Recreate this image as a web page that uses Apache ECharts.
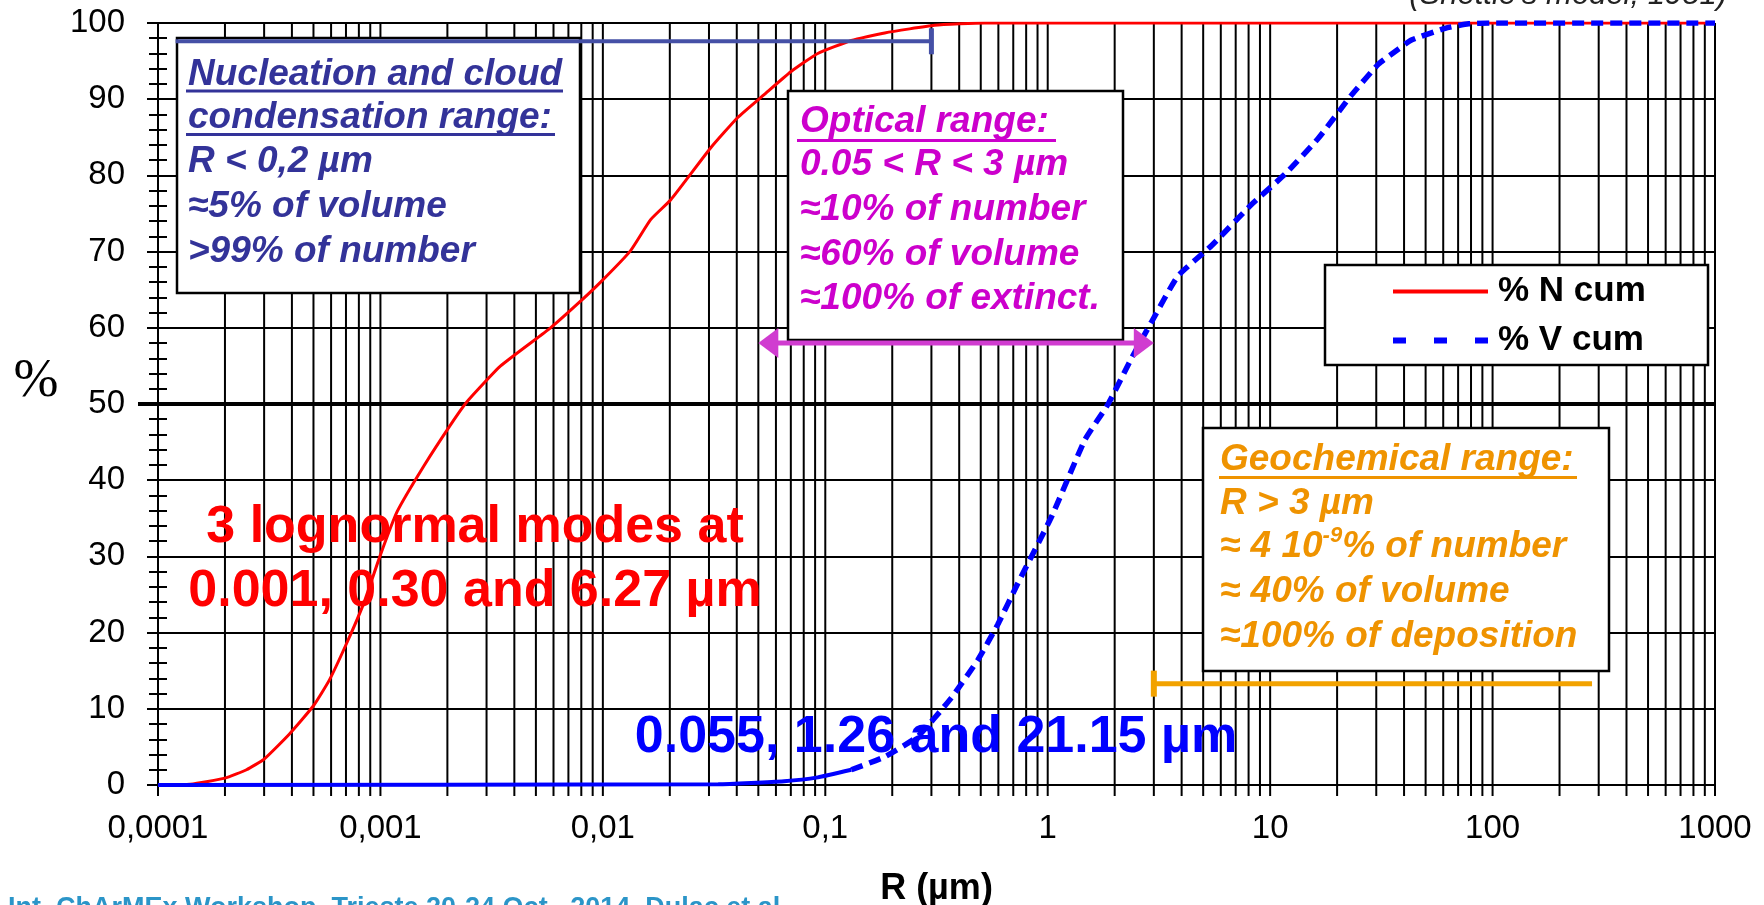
<!DOCTYPE html>
<html>
<head>
<meta charset="utf-8">
<script src="https://cdn.jsdelivr.net/npm/echarts@6/dist/echarts.min.js"></script>
<style>
html, body { margin: 0; padding: 0; background: #fff; }
#chart { width: 1764px; height: 905px; }
</style>
</head>
<body>
<div id="chart"></div>
<script>
// Cumulative aerosol distributions: % of number (N) and % of volume (V) below radius R (µm)
const radiusN = [0.0001, 0.00014, 0.0002, 0.00025, 0.0003, 0.00039, 0.0005, 0.00059, 0.00071, 0.00084,
  0.001, 0.00119, 0.00157, 0.00207, 0.00245, 0.00347, 0.00582, 0.00767, 0.00977, 0.0133,
  0.0164, 0.0202, 0.0305, 0.0404, 0.0531, 0.07, 0.0925, 0.131, 0.185, 0.31, 0.52, 1000];
const percentN = [0, 0.1, 0.9, 2.0, 3.4, 6.7, 10.4, 13.8, 18.8, 23.8,
  30.2, 35.9, 41.9, 47.3, 50.3, 55.0, 60.0, 63.1, 66.0, 70.1,
  74.2, 76.8, 83.6, 87.6, 90.6, 93.6, 96.0, 97.7, 98.7, 99.7, 100, 100];

const radiusV = [0.0001, 0.033, 0.0653, 0.0925, 0.131, 0.185, 0.261, 0.368, 0.485, 0.597,
  0.735, 1.04, 1.47, 1.87, 2.38, 2.92, 3.85, 5.46, 8.26, 11.7,
  16.5, 23.3, 30.7, 37.8, 43.4, 61.2, 78, 99.3, 1000];
const percentV = [0, 0.1, 0.5, 1.0, 2.0, 3.7, 6.4, 11.4, 16.4, 21.1,
  26.5, 35.2, 45.3, 50.0, 56.0, 60.7, 66.8, 70.8, 76.2, 80.2,
  84.9, 90.6, 94.6, 96.6, 97.8, 99.3, 99.9, 100, 100];
// the flat start of the volume curve is drawn solid, the rest dashed
const vSolidUntil = 4;

const xTickLabels = ['0,0001', '0,001', '0,01', '0,1', '1', '10', '100', '1000'];

// range markers: [R from, R to, % level]
const nucleationSpan = [0.00012, 0.3, 97.6];
const opticalSpan = [0.05, 3, 58];
const geochemSpan = [3, 280, 13.3];

const FONT = "'Liberation Sans', Arial, sans-serif";

// vertical log-grid lines at 1..9 x 10^k
const gridX = [];
for (let e = -4; e <= 2; e++) {
  for (let m = 1; m <= 9; m++) gridX.push(m * Math.pow(10, e));
}
gridX.push(1000);

function pairs(xs, ys, from, to) {
  const out = [];
  for (let i = from; i < to; i++) out.push([xs[i], ys[i]]);
  return out;
}

function bracketRender(color, width, tickAt) {
  return function (params, api) {
    const a = api.coord([api.value(0), api.value(2)]);
    const b = api.coord([api.value(1), api.value(2)]);
    const tx = tickAt === 'end' ? b[0] : a[0];
    return {
      type: 'group',
      children: [
        { type: 'line', shape: { x1: a[0], y1: a[1], x2: b[0], y2: b[1] }, style: { stroke: color, lineWidth: width } },
        { type: 'line', shape: { x1: tx, y1: a[1] - 13, x2: tx, y2: a[1] + 13 }, style: { stroke: color, lineWidth: width + 1 } }
      ]
    };
  };
}

function arrowRender(color, width) {
  return function (params, api) {
    const a = api.coord([api.value(0), api.value(2)]);
    const b = api.coord([api.value(1), api.value(2)]);
    const L = 20, H = 15;
    return {
      type: 'group',
      children: [
        { type: 'line', shape: { x1: a[0] + 10, y1: a[1], x2: b[0] - 10, y2: b[1] }, style: { stroke: color, lineWidth: width } },
        { type: 'polygon', shape: { points: [[a[0], a[1]], [a[0] + L, a[1] - H], [a[0] + L, a[1] + H]] }, style: { fill: color } },
        { type: 'polygon', shape: { points: [[b[0], b[1]], [b[0] - L, b[1] - H], [b[0] - L, b[1] + H]] }, style: { fill: color } }
      ]
    };
  };
}

// one line of box text, placed by its baseline
function textLine(str, x, baseline, color, size, extra) {
  const style = Object.assign({
    text: str, fill: color, fontSize: size, fontWeight: 'bold', fontStyle: 'italic', fontFamily: FONT,
    align: 'left', textAlign: 'left', verticalAlign: 'middle', textVerticalAlign: 'middle'
  }, extra || {});
  return { type: 'text', x: x, y: baseline - 0.35 * size, z: 4, style: style };
}
function underline(x1, x2, y, color) {
  return { type: 'line', z: 4, shape: { x1: x1, y1: y, x2: x2, y2: y }, style: { stroke: color, lineWidth: 3 } };
}
function box(x, y, w, h) {
  return { type: 'rect', z: 3, shape: { x: x, y: y, width: w, height: h }, style: { fill: '#fff', stroke: '#000', lineWidth: 2.5 } };
}

const NUC = '#333399', OPT = '#CC00CC', GEO = '#EF9300';

const graphics = [
  box(177, 38, 403, 255),
  box(788, 91, 335, 249),
  box(1203, 428, 406, 243),
  box(1325, 265, 383, 100),

  textLine('Nucleation and cloud', 188, 88, NUC, 37),
  underline(186, 563, 91, NUC),
  textLine('condensation range:', 188, 131, NUC, 37),
  underline(186, 555, 134.5, NUC),
  textLine('R < 0,2 µm', 188, 175, NUC, 37),
  textLine('≈5% of volume', 188, 220, NUC, 37),
  textLine('>99% of number', 188, 265, NUC, 37),

  textLine('Optical range:', 800, 135, OPT, 37),
  underline(797, 1056, 140.5, OPT),
  textLine('0.05 < R < 3 µm', 800, 178, OPT, 37),
  textLine('≈10% of number', 800, 223, OPT, 37),
  textLine('≈60% of volume', 800, 268, OPT, 37),
  textLine('≈100% of extinct.', 800, 312, OPT, 37),

  textLine('Geochemical range:', 1220, 473, GEO, 37),
  underline(1219, 1577, 477.5, GEO),
  textLine('R > 3 µm', 1220, 517, GEO, 37),
  textLine('≈ 4 10{sup|-9}% of number', 1220, 560, GEO, 37, {
    lineHeight: 44,
    rich: { sup: { fontSize: 22, fontWeight: 'bold', fontStyle: 'italic', fontFamily: FONT, fill: GEO, verticalAlign: 'top', lineHeight: 44 } }
  }),
  textLine('≈ 40% of volume', 1220, 605, GEO, 37),
  textLine('≈100% of deposition', 1220, 650, GEO, 37),

  textLine('3 lognormal modes at', 475, 546, '#FF0000', 52, { fontStyle: 'normal', align: 'center', textAlign: 'center' }),
  textLine('0.001, 0.30 and 6.27 µm', 475, 610, '#FF0000', 52, { fontStyle: 'normal', align: 'center', textAlign: 'center' }),
  textLine('0.055, 1.26 and 21.15 µm', 936, 756, '#0000FF', 52, { fontStyle: 'normal', align: 'center', textAlign: 'center' }),

  { type: 'text', x: 36, y: 382, z: 4, style: { text: '%', fill: '#000', fontSize: 54, fontFamily: "'Liberation Serif', 'Times New Roman', serif",
    align: 'center', textAlign: 'center', verticalAlign: 'middle', textVerticalAlign: 'middle' } },
  { type: 'text', x: 1727, y: 10.5, z: 4, style: { text: "(Shettle's model, 1981)", fill: '#222', fontSize: 31, fontStyle: 'italic', fontFamily: FONT,
    align: 'right', textAlign: 'right', verticalAlign: 'bottom', textVerticalAlign: 'bottom' } },
  { type: 'text', x: 8, y: 895, z: 4, style: { text: 'Int. ChArMEx Workshop, Trieste 20-24 Oct., 2014, Dulac et al.', fill: '#2B95C8', fontSize: 27, fontWeight: 'bold', fontFamily: FONT,
    align: 'left', textAlign: 'left', verticalAlign: 'top', textVerticalAlign: 'top' } }
];

const tickStyle = { color: '#000', width: 2 };

const option = {
  animation: false,
  backgroundColor: '#fff',
  grid: { left: 158, right: 49, top: 23, bottom: 120, containLabel: false, outerBoundsMode: 'none' },
  legend: {
    orient: 'vertical', left: 1390, top: 274, padding: 0,
    itemWidth: 95, itemHeight: 34, itemGap: 14,
    itemStyle: { opacity: 0 },
    textStyle: { fontSize: 35, fontWeight: 'bold', color: '#000', fontFamily: FONT, padding: [0, 0, 0, 5] },
    data: [
      { name: '% N cum', lineStyle: { width: 4 } },
      { name: '% V cum', lineStyle: { type: [13, 28], width: 6 } }
    ]
  },
  xAxis: {
    type: 'log', logBase: 10, min: 0.0001, max: 1000, splitNumber: 7,
    name: 'R (µm)', nameLocation: 'middle', nameGap: 86,
    nameTextStyle: { fontSize: 36, fontWeight: 'bold', color: '#000', fontFamily: FONT },
    axisLine: { show: true, lineStyle: tickStyle },
    axisTick: { show: false },
    minorTick: { show: false },
    splitLine: { show: false },
    axisLabel: {
      margin: 27, fontSize: 33, color: '#000', fontFamily: FONT,
      formatter: function (v) { return xTickLabels[Math.round(Math.log10(v)) + 4]; }
    }
  },
  yAxis: [
    {
      type: 'value', min: 0, max: 100, interval: 10, position: 'left',
      axisLine: { show: true, lineStyle: tickStyle },
      axisTick: { show: true, length: 11, lineStyle: tickStyle },
      minorTick: { show: true, splitNumber: 5, length: 9, lineStyle: tickStyle },
      splitLine: { show: true, lineStyle: { color: '#000', width: 2 } },
      axisLabel: { margin: 33, fontSize: 33, color: '#000', fontFamily: FONT }
    },
    {
      type: 'value', min: 0, max: 100, interval: 10, position: 'left', offset: 0,
      axisLine: { show: false },
      axisTick: { show: true, inside: true, length: 9, lineStyle: tickStyle },
      minorTick: { show: true, splitNumber: 5, length: 9, lineStyle: tickStyle },
      splitLine: { show: false },
      axisLabel: { show: false }
    }
  ],
  graphic: { elements: graphics },
  series: [
    {
      name: 'log grid', type: 'custom', coordinateSystem: 'cartesian2d', z: 1, silent: true, clip: false,
      encode: { x: 0, y: 1 },
      data: gridX.map(function (v) { return [v, 0]; }),
      renderItem: function (params, api) {
        const top = api.coord([api.value(0), 100]);
        const bot = api.coord([api.value(0), 0]);
        return { type: 'line', shape: { x1: top[0], y1: top[1], x2: bot[0], y2: bot[1] + 11 }, style: { stroke: '#000', lineWidth: 2 } };
      }
    },
    {
      name: '50 % line', type: 'custom', coordinateSystem: 'cartesian2d', z: 1, silent: true, clip: false,
      encode: { x: 0, y: 1 },
      data: [[0.0001, 50]],
      renderItem: function (params, api) {
        const p = api.coord([api.value(0), api.value(1)]);
        const cs = params.coordSys;
        return { type: 'line', shape: { x1: p[0] - 20, y1: p[1], x2: cs.x + cs.width, y2: p[1] }, style: { stroke: '#000', lineWidth: 4 } };
      }
    },
    {
      name: '% N cum', type: 'line', z: 5, symbol: 'none', smooth: 0.15,
      lineStyle: { color: '#FF0000', width: 3 }, itemStyle: { color: '#FF0000' },
      data: pairs(radiusN, percentN, 0, radiusN.length)
    },
    {
      name: 'V cum start', type: 'line', z: 5, symbol: 'none', smooth: 0.15,
      lineStyle: { color: '#0000FF', width: 4 }, itemStyle: { color: '#0000FF' },
      data: pairs(radiusV, percentV, 0, vSolidUntil + 1)
    },
    {
      name: '% V cum', type: 'line', z: 5, symbol: 'none', smooth: 0.15,
      lineStyle: { color: '#0000FF', width: 5.5, type: [12, 7] }, itemStyle: { color: '#0000FF' },
      data: pairs(radiusV, percentV, vSolidUntil, radiusV.length)
    },
    {
      name: 'nucleation range', type: 'custom', coordinateSystem: 'cartesian2d', z: 6, silent: true, clip: false,
      encode: { x: [0, 1], y: 2 }, data: [nucleationSpan],
      renderItem: bracketRender('#4550A6', 4, 'end')
    },
    {
      name: 'optical range', type: 'custom', coordinateSystem: 'cartesian2d', z: 6, silent: true, clip: false,
      encode: { x: [0, 1], y: 2 }, data: [opticalSpan],
      renderItem: arrowRender('#D03CD0', 5)
    },
    {
      name: 'geochemical range', type: 'custom', coordinateSystem: 'cartesian2d', z: 6, silent: true, clip: false,
      encode: { x: [0, 1], y: 2 }, data: [geochemSpan],
      renderItem: bracketRender('#F2A200', 5, 'start')
    }
  ]
};

const chart = echarts.init(document.getElementById('chart'), null, { renderer: 'canvas' });
chart.setOption(option);
</script>
</body>
</html>
